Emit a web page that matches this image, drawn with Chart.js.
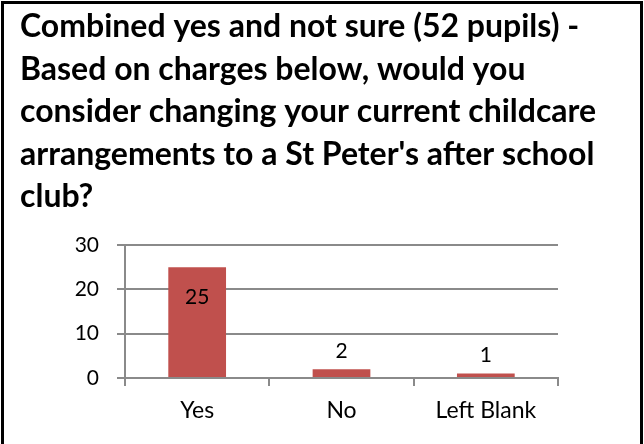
<!DOCTYPE html>
<html>
<head>
<meta charset="utf-8">
<script src="https://cdn.jsdelivr.net/npm/chart.js@4.4.1/dist/chart.umd.min.js"></script>
<style>
  html, body { margin: 0; padding: 0; background: #ffffff; }
  #wrap { position: relative; width: 644px; height: 444px; overflow: hidden; }
  #frame { position: absolute; left: 1px; top: 1px; width: 642px; height: 460px;
           border: 3px solid #000; box-sizing: border-box; pointer-events: none; }
</style>
</head>
<body>
<div id="wrap">
  <canvas id="c" width="644" height="444"></canvas>
  <div id="frame"></div>
</div>
<script>
const titleLines = [
  "Combined yes and not sure (52 pupils) -",
  "Based on charges below, would you",
  "consider changing your current childcare",
  "arrangements to a St Peter's after school",
  "club?"
];
const categories = ["Yes", "No", "Left Blank"];
const values = [25, 2, 1];
const yTicks = [0, 10, 20, 30];

const FONT = "Lato, 'Open Sans', sans-serif";
const GRID = "#8a8a8a";

const titlePlugin = {
  id: 'leftTitle',
  afterDraw(chart) {
    const ctx = chart.ctx;
    ctx.save();
    ctx.fillStyle = '#000';
    ctx.font = "bold 32px " + FONT;
    ctx.textAlign = 'left';
    ctx.textBaseline = 'alphabetic';
    titleLines.forEach((line, i) => {
      ctx.fillText(line, 20, 37 + i * 42.6);
    });
    ctx.restore();
  }
};

const labelPlugin = {
  id: 'barLabels',
  afterDatasetsDraw(chart) {
    const ctx = chart.ctx;
    const meta = chart.getDatasetMeta(0);
    ctx.save();
    ctx.fillStyle = '#000';
    ctx.font = "21px " + FONT;
    ctx.textAlign = 'center';
    ctx.textBaseline = 'middle';
    meta.data.forEach((bar, i) => {
      const h = bar.base - bar.y;
      const y = h > 40 ? bar.y + 30 : bar.y - 18;
      ctx.fillText(String(values[i]), bar.x, y);
    });
    ctx.restore();
  }
};

new Chart(document.getElementById('c'), {
  type: 'bar',
  data: {
    labels: categories,
    datasets: [{
      data: values,
      backgroundColor: '#C0504D',
      borderWidth: 0,
      categoryPercentage: 1.0,
      barPercentage: 0.4
    }]
  },
  options: {
    responsive: false,
    animation: false,
    events: [],
    layout: { padding: { top: 245, left: 20, right: 86, bottom: 0 } },
    plugins: {
      legend: { display: false },
      title: { display: false },
      tooltip: { enabled: false }
    },
    scales: {
      y: {
        min: 0, max: 30,
        afterFit(scale) { scale.width = 105; },
        afterBuildTicks(scale) { scale.ticks = yTicks.map(v => ({ value: v })); },
        ticks: { color: '#000', font: { family: FONT, size: 21 }, padding: 18 },
        grid: { color: GRID, lineWidth: 2, tickLength: 8, drawTicks: true },
        border: { display: true, color: GRID, width: 2 }
      },
      x: {
        afterFit(scale) { scale.height = 66; },
        offset: true,
        ticks: { color: '#000', font: { family: FONT, size: 23 }, padding: 11 },
        grid: { offset: true, drawOnChartArea: false, drawTicks: true, tickLength: 8, color: GRID, lineWidth: 2 },
        border: { display: true, color: GRID, width: 2 }
      }
    }
  },
  plugins: [titlePlugin, labelPlugin]
});
</script>
</body>
</html>
